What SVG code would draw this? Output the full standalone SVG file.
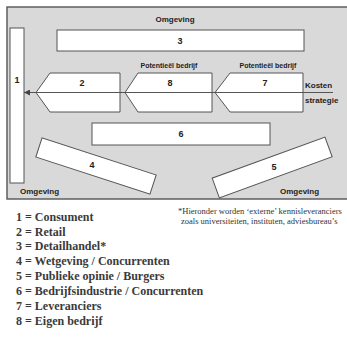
<svg xmlns="http://www.w3.org/2000/svg" width="347" height="339" viewBox="0 0 347 339">
<defs>
<style>
.box{fill:#fff;stroke:#555;stroke-width:1}
.lbl{font-family:"Liberation Sans",Arial,sans-serif;font-weight:bold;font-size:8px;fill:#222}
.num{font-family:"Liberation Sans",Arial,sans-serif;font-weight:bold;font-size:9px;fill:#222;text-anchor:middle}
.leg{font-family:"Liberation Serif","Times New Roman",serif;font-weight:bold;font-size:12px;fill:#3a3a3a}
.note{font-family:"Liberation Serif","Times New Roman",serif;font-size:8.5px;fill:#333}
.conn{stroke:#555;stroke-width:1;fill:none}
</style>
<marker id="ah" viewBox="0 0 10 10" refX="10" refY="5" markerWidth="8" markerHeight="6" orient="auto-start-reverse" markerUnits="userSpaceOnUse">
<path d="M0,0 L10,5 L0,10 z" fill="#444"/>
</marker>
</defs>
<rect x="0" y="0" width="347" height="339" fill="#fff"/>
<g id="panel">
<rect x="7" y="7" width="345" height="192" fill="#d9d9d9" stroke="#555" stroke-width="1.4"/>
<text class="num" x="175" y="22" style="font-size:8px">Omgeving</text>
<text class="lbl" x="20" y="194">Omgeving</text>
<text class="lbl" x="280" y="194">Omgeving</text>
</g>
<g id="node1">
<rect class="box" x="10" y="28" width="14" height="155"/>
<text class="num" x="17" y="83">1</text>
</g>
<g id="node3">
<rect class="box" x="57" y="30" width="247" height="21"/>
<text class="num" x="180" y="44">3</text>
</g>
<g id="node2">
<polygon class="box" points="50,73 120,73 120,112 50,112 36,92.5"/>
<text class="num" x="82" y="86">2</text>
</g>
<g id="node8">
<polygon class="box" points="138,73 212,73 212,112 138,112 125,92.5"/>
<text class="num" x="170" y="86">8</text>
<text class="num" x="169" y="68" style="font-size:7px">Potentieël bedrijf</text>
</g>
<g id="node7">
<polygon class="box" points="230,73 303,73 303,112 230,112 215,92.5"/>
<text class="num" x="265" y="86">7</text>
<text class="num" x="268" y="68" style="font-size:7px">Potentieël bedrijf</text>
</g>
<g id="node6">
<rect class="box" x="92" y="123" width="178" height="22"/>
<text class="num" x="181" y="137">6</text>
</g>
<g id="node4">
<rect class="box" x="36" y="156" width="120" height="20" transform="rotate(18 96 166)"/>
<text class="num" x="92" y="168">4</text>
</g>
<g id="node5">
<rect class="box" x="212" y="157" width="120" height="21" transform="rotate(-20 272 167)"/>
<text class="num" x="274" y="170">5</text>
</g>
<g id="connectors">
<line class="conn" x1="333" y1="92.5" x2="24" y2="92.5" marker-end="url(#ah)"/>
</g>
<g id="kosten">
<text class="lbl" x="305" y="88">Kosten</text>
<text class="lbl" x="305" y="103">strategie</text>
</g>
<g id="legend">
<text class="leg" x="16" y="221">1 = Consument</text>
<text class="leg" x="16" y="236">2 = Retail</text>
<text class="leg" x="16" y="250">3 = Detailhandel*</text>
<text class="leg" x="16" y="265">4 = Wetgeving / Concurrenten</text>
<text class="leg" x="16" y="280">5 = Publieke opinie / Burgers</text>
<text class="leg" x="16" y="295">6 = Bedrijfsindustrie / Concurrenten</text>
<text class="leg" x="16" y="310">7 = Leveranciers</text>
<text class="leg" x="16" y="325">8 = Eigen bedrijf</text>
</g>
<g id="footnote">
<text class="note" x="178" y="214">*Hieronder worden ‘externe’ kennisleveranciers</text>
<text class="note" x="181" y="224">zoals universiteiten, instituten, adviesbureau’s</text>
</g>
</svg>
